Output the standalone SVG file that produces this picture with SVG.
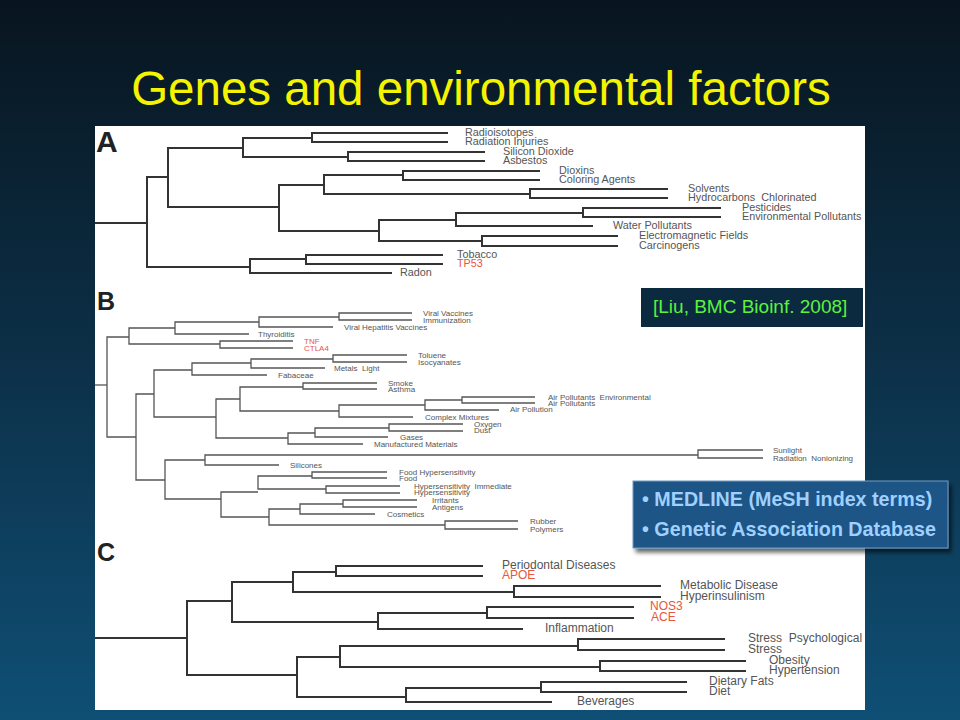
<svg xmlns="http://www.w3.org/2000/svg" width="960" height="720" viewBox="0 0 960 720">
<defs>
<linearGradient id="bg" x1="0" y1="0" x2="0" y2="1">
<stop offset="0" stop-color="#08151f"/>
<stop offset="0.5" stop-color="#0c3048"/>
<stop offset="1" stop-color="#0f4f75"/>
</linearGradient>
<filter id="sh" x="-10%" y="-10%" width="130%" height="140%">
<feDropShadow dx="3" dy="4" stdDeviation="2" flood-color="#000" flood-opacity="0.6"/>
</filter>
</defs>
<style>
.ta{fill:none;stroke:#333;stroke-width:2}
.tb{fill:none;stroke:#555;stroke-width:1.3}
.la{font-family:"Liberation Sans",Arial,sans-serif;font-size:10.8px;fill:#555}
.lb{font-family:"Liberation Sans",Arial,sans-serif;font-size:8px;fill:#555}
.lc{font-family:"Liberation Sans",Arial,sans-serif;font-size:12px;fill:#555}
.red{fill:#e8553a}
.let{font-family:"Liberation Sans",Arial,sans-serif;font-weight:bold;fill:#222}
.med{font-family:"Liberation Sans",Arial,sans-serif;font-weight:bold;font-size:19.7px;fill:#9fd0ff}
</style>
<rect width="960" height="720" fill="url(#bg)"/>
<text x="481" y="105" text-anchor="middle" font-family="'Liberation Sans',Arial,sans-serif" font-size="47.5" fill="#f4f400">Genes and environmental factors</text>
<rect x="95" y="126" width="770" height="584" fill="#fff"/>
<text class="let" x="96" y="152" font-size="30">A</text>
<text class="let" x="97" y="310" font-size="25">B</text>
<text class="let" x="97" y="561" font-size="25">C</text>
<g id="connectors">
<g id="treeA" class="ta">
<path d="M95 223H147"/>
<path d="M168 177H147V267H250"/>
<path d="M243 148H168V207H279"/>
<path d="M312 138H243V157H348"/>
<path d="M448 133H312V142H448"/>
<path d="M485 152H348V161H485"/>
<path d="M324 185H279V231H379"/>
<path d="M403 175H324V194H530"/>
<path d="M540 171H403V180H540"/>
<path d="M668 189H530V198H668"/>
<path d="M456 220H379V241H482"/>
<path d="M583 213H456V226H593"/>
<path d="M721 208H583V217H721"/>
<path d="M618 236H482V246H618"/>
<path d="M306 259H250V273H392"/>
<path d="M443 255H306V264H443"/>
</g>
<g id="treeB" class="tb">
<path d="M95 385H107"/>
<path d="M129 337H107V437H136"/>
<path d="M175 328H129V344H220"/>
<path d="M259 322H175V334H249"/>
<path d="M339 317H259V327H333"/>
<path d="M412 313H339V320H412"/>
<path d="M293 341H220V348H293"/>
<path d="M154 394H136V480H165"/>
<path d="M192 370H154V417H216"/>
<path d="M251 363H192V375H267"/>
<path d="M333 359H251V368H325"/>
<path d="M407 355H333V362H407"/>
<path d="M240 399H216V438H288"/>
<path d="M303 387H240V411H339"/>
<path d="M377 383H303V389H377"/>
<path d="M425 405H339V417H413"/>
<path d="M462 400H425V410H499"/>
<path d="M535 397H462V403H535"/>
<path d="M315 433H288V444H363"/>
<path d="M389 428H315V437H388"/>
<path d="M463 424H389V431H463"/>
<path d="M205 460H165V499H221"/>
<path d="M698 455H205V465H279"/>
<path d="M763 450H698V458H763"/>
<path d="M258 492H221V517H269"/>
<path d="M312 476H258V489H326"/>
<path d="M387 472H312V478H387"/>
<path d="M400 486H326V493H400"/>
<path d="M300 509H269V525H445"/>
<path d="M343 504H300V514H375"/>
<path d="M417 500H343V507H417"/>
<path d="M518 521H445V529H518"/>
</g>
<g id="treeC" class="ta">
<path d="M95 638H187"/>
<path d="M232 601H187V675H297"/>
<path d="M293 582H232V622H378"/>
<path d="M336 572H293V592H514"/>
<path d="M483 566H336V576H483"/>
<path d="M661 586H514V597H661"/>
<path d="M487 613H378V629H523"/>
<path d="M634 607H487V618H634"/>
<path d="M340 657H297V697H406"/>
<path d="M578 646H340V667H600"/>
<path d="M725 639H578V650H725"/>
<path d="M746 661H600V671H746"/>
<path d="M541 688H406V702H552"/>
<path d="M687 682H541V692H687"/>
</g>
</g>
<g id="labelsA" class="la">
<g id="a-radioisotopes"><text x="465" y="135.7">Radioisotopes</text></g>
<g id="a-radiation-injuries"><text x="465" y="144.7">Radiation Injuries</text></g>
<g id="a-silicon-dioxide"><text x="503" y="154.7">Silicon Dioxide</text></g>
<g id="a-asbestos"><text x="503" y="163.7">Asbestos</text></g>
<g id="a-dioxins"><text x="559" y="173.7">Dioxins</text></g>
<g id="a-coloring-agents"><text x="559" y="182.7">Coloring Agents</text></g>
<g id="a-solvents"><text x="688" y="191.7">Solvents</text></g>
<g id="a-hydrocarbons"><text x="688" y="200.7" xml:space="preserve">Hydrocarbons  Chlorinated</text></g>
<g id="a-pesticides"><text x="742" y="210.7">Pesticides</text></g>
<g id="a-env-pollutants"><text x="742" y="219.7">Environmental Pollutants</text></g>
<g id="a-water-pollutants"><text x="613" y="228.7">Water Pollutants</text></g>
<g id="a-emf"><text x="639" y="238.7">Electromagnetic Fields</text></g>
<g id="a-carcinogens"><text x="639" y="248.7">Carcinogens</text></g>
<g id="a-tobacco"><text x="457" y="257.7">Tobacco</text></g>
<g id="a-tp53"><text class="red" x="457" y="266.7">TP53</text></g>
<g id="a-radon"><text x="400" y="275.7">Radon</text></g>
</g>
<g id="labelsB" class="lb">
<g id="b-viral-vaccines"><text x="423" y="315.7">Viral Vaccines</text></g>
<g id="b-immunization"><text x="423" y="322.7">Immunization</text></g>
<g id="b-viral-hep"><text x="344" y="329.7">Viral Hepatitis Vaccines</text></g>
<g id="b-thyroiditis"><text x="258" y="336.7">Thyroiditis</text></g>
<g id="b-tnf"><text class="red" x="304" y="343.7">TNF</text></g>
<g id="b-ctla4"><text class="red" x="304" y="350.7">CTLA4</text></g>
<g id="b-toluene"><text x="418" y="357.7">Toluene</text></g>
<g id="b-isocyanates"><text x="418" y="364.7">Isocyanates</text></g>
<g id="b-metals"><text x="334" y="370.7" xml:space="preserve">Metals  Light</text></g>
<g id="b-fabaceae"><text x="278" y="377.7">Fabaceae</text></g>
<g id="b-smoke"><text x="388" y="385.7">Smoke</text></g>
<g id="b-asthma"><text x="388" y="391.7">Asthma</text></g>
<g id="b-air-pol-env"><text x="548" y="399.7" xml:space="preserve">Air Pollutants  Environmental</text></g>
<g id="b-air-pol"><text x="548" y="405.7">Air Pollutants</text></g>
<g id="b-air-pollution"><text x="510" y="412.2">Air Pollution</text></g>
<g id="b-complex"><text x="425" y="419.7">Complex Mixtures</text></g>
<g id="b-oxygen"><text x="474" y="426.7">Oxygen</text></g>
<g id="b-dust"><text x="474" y="433.2">Dust</text></g>
<g id="b-gases"><text x="400" y="439.7">Gases</text></g>
<g id="b-manufactured"><text x="374" y="446.7">Manufactured Materials</text></g>
<g id="b-sunlight"><text x="773" y="452.7">Sunlight</text></g>
<g id="b-radiation-non"><text x="773" y="460.7" xml:space="preserve">Radiation  Nonionizing</text></g>
<g id="b-silicones"><text x="290" y="467.7">Silicones</text></g>
<g id="b-food-hyp"><text x="399" y="474.7">Food Hypersensitivity</text></g>
<g id="b-food"><text x="399" y="480.7">Food</text></g>
<g id="b-hyp-imm"><text x="414" y="488.7" xml:space="preserve">Hypersensitivity  Immediate</text></g>
<g id="b-hyp"><text x="414" y="495.2">Hypersensitivity</text></g>
<g id="b-irritants"><text x="432" y="502.7">Irritants</text></g>
<g id="b-antigens"><text x="432" y="509.7">Antigens</text></g>
<g id="b-cosmetics"><text x="387" y="516.7">Cosmetics</text></g>
<g id="b-rubber"><text x="530" y="523.7">Rubber</text></g>
<g id="b-polymers"><text x="530" y="531.7">Polymers</text></g>
</g>
<g id="labelsC" class="lc">
<g id="c-periodontal"><text x="502" y="568.5">Periodontal Diseases</text></g>
<g id="c-apoe"><text class="red" x="502" y="578.5">APOE</text></g>
<g id="c-metabolic"><text x="680" y="588.5">Metabolic Disease</text></g>
<g id="c-hyperinsulinism"><text x="680" y="599.5">Hyperinsulinism</text></g>
<g id="c-nos3"><text class="red" x="650" y="609.5">NOS3</text></g>
<g id="c-ace"><text class="red" x="651" y="620.5">ACE</text></g>
<g id="c-inflammation"><text x="545" y="631.5">Inflammation</text></g>
<g id="c-stress-psych"><text x="748" y="641.5" xml:space="preserve">Stress  Psychological</text></g>
<g id="c-stress"><text x="748" y="652.5">Stress</text></g>
<g id="c-obesity"><text x="769" y="663.5">Obesity</text></g>
<g id="c-hypertension"><text x="769" y="673.5">Hypertension</text></g>
<g id="c-dietary-fats"><text x="709" y="684.5">Dietary Fats</text></g>
<g id="c-diet"><text x="709" y="694.5">Diet</text></g>
<g id="c-beverages"><text x="577" y="704.5">Beverages</text></g>
</g>
<g id="citation">
<rect x="641" y="288" width="222" height="39" fill="#0b2a40"/>
<text x="653" y="313" font-family="'Liberation Sans',Arial,sans-serif" font-size="19" fill="#5ef23c">[Liu, BMC Bioinf. 2008]</text>
</g>
<g id="sources">
<rect x="633" y="481" width="315" height="67" fill="#1b5486" stroke="#6f9cc4" stroke-width="1" filter="url(#sh)"/>
<text class="med" x="642" y="506">• MEDLINE (MeSH index terms)</text>
<text class="med" x="642" y="536">• Genetic Association Database</text>
</g>
</svg>
